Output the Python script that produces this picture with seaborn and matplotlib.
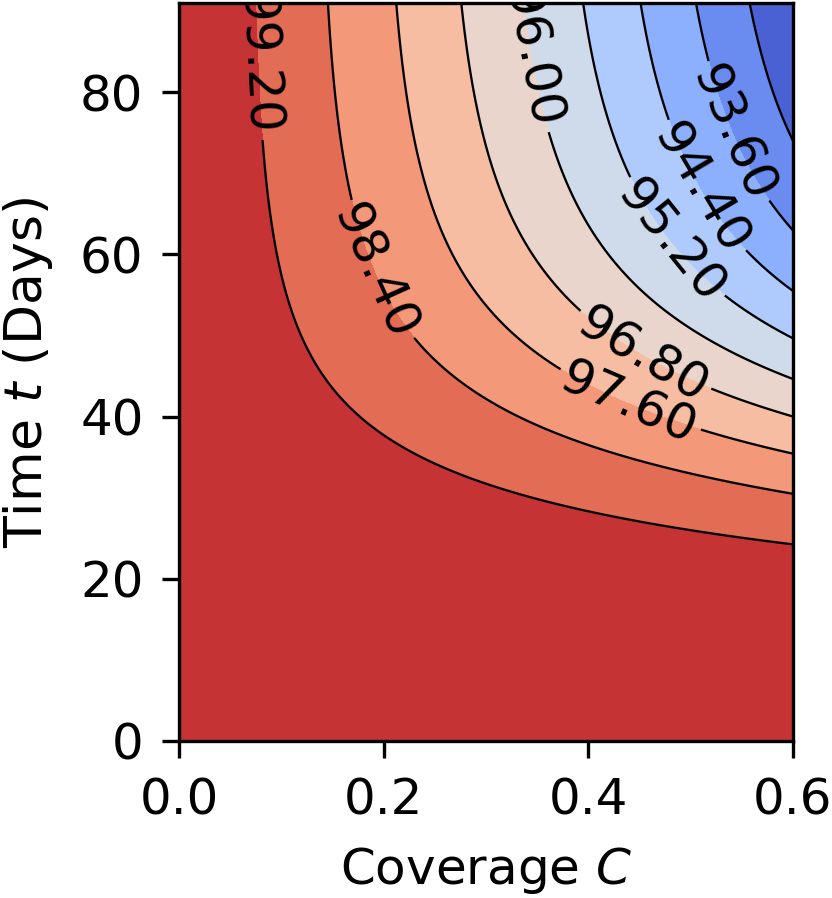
import numpy as np
import matplotlib
matplotlib.use("Agg")
import matplotlib.pyplot as plt
import seaborn as sns

# grid of coverage / time values
coverage = np.linspace(0.0, 0.6, 301)
days = np.linspace(0.0, 91.0, 301)

# contour levels (92 .. 100, step 0.8)
levels = np.linspace(92.0, 100.0, 11)

# model parameters
k_lin, k_quad = 11.3, 5.1      # loss scale vs coverage
t_half, hill = 46.5, 3.5       # time profile (half time, steepness)

# spots where the contour labels sit in the reference
label_spots = [(0.077, 83.5), (0.196, 58.0), (0.333, 84.0), (0.543, 75.0),
               (0.509, 68.0), (0.475, 61.0), (0.455, 48.0), (0.441, 42.0)]

CC, TT = np.meshgrid(coverage, days)
loss = (k_lin * CC + k_quad * CC ** 2) / (1.0 + (np.maximum(TT, 1e-9) / t_half) ** (-hill))
Z = 100.0 - loss

sns.set_theme(style="ticks")
plt.rcParams["font.family"] = ["DejaVu Sans"]
plt.rcParams["text.color"] = "black"
plt.rcParams["axes.labelcolor"] = "black"
plt.rcParams["xtick.color"] = "black"
plt.rcParams["ytick.color"] = "black"

fig = plt.figure(figsize=(832 / 300, 898 / 300), dpi=300)
ax = fig.add_axes([179 / 832, 1 - 741 / 898, (793 - 179) / 832, (741 - 3) / 898])

cmap = sns.color_palette("coolwarm", as_cmap=True)
ax.contourf(CC, TT, Z, levels=levels, cmap=cmap)
cs = ax.contour(CC, TT, Z, levels=levels, colors="black", linewidths=0.55)
ax.clabel(cs, fmt="%.2f", fontsize=12, colors="black", manual=label_spots)

ax.set_xlim(0, 0.6)
ax.set_ylim(0, 91)
ax.set_xticks([0.0, 0.2, 0.4, 0.6])
ax.set_yticks([0, 20, 40, 60, 80])
ax.tick_params(labelsize=12, length=4, width=0.8, pad=4.5,
               color="black", labelcolor="black")
for s in ax.spines.values():
    s.set_visible(True)
    s.set_color("black")
    s.set_linewidth(0.8)
ax.set_xlabel("Coverage $C$", fontsize=12, color="black", labelpad=5)
ax.set_ylabel("Time $t$ (Days)", fontsize=12.5, color="black", labelpad=6)

fig.savefig("out.png", dpi=300)
